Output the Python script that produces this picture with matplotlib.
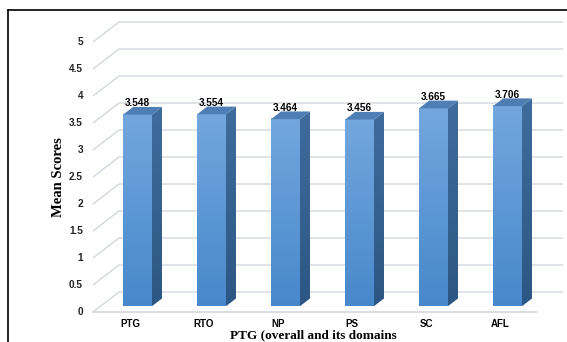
import numpy as np
import matplotlib
matplotlib.use("Agg")
import matplotlib.pyplot as plt
from matplotlib.patches import Polygon
from matplotlib.lines import Line2D
from matplotlib.colors import LinearSegmentedColormap

categories = ["PTG", "RTO", "NP", "PS", "SC", "AFL"]
means = [3.548, 3.554, 3.464, 3.456, 3.665, 3.706]
yticks = [0, 0.5, 1, 1.5, 2, 2.5, 3, 3.5, 4, 4.5, 5]
ytick_labels = ["0", "0.5", "1", "1.5", "2", "2.5", "3", "3.5", "4", "4.5", "5"]

# pseudo 3d: how far the floor recedes (data units), bar width and bar depth range
depth_x, depth_y = 0.351, 0.370
bar_w = 0.39
f0, f1 = 0.29, 0.675

fig = plt.figure(figsize=(5.67, 3.42), dpi=100)
ax = fig.add_axes([0, 0, 1, 1])
ax.set_xlim(-1.757, 5.905)
ax.set_ylim(-0.556, 5.778)
ax.axis("off")

# gridlines: slanted side wall + back wall
grid_c = "#d3d8de"
x0, x1 = -0.5, len(categories) - 0.5
for v in yticks:
    ax.plot([x0, x0 + depth_x, x1 + depth_x], [v, v + depth_y, v + depth_y],
            color=grid_c, lw=1, zorder=1, solid_capstyle="butt")
ax.plot([x0, x1], [0, 0], color=grid_c, lw=1.2, zorder=1)

sans = ["Liberation Sans", "DejaVu Sans"]
serif = ["Liberation Serif", "DejaVu Serif"]

for v, lab in zip(yticks, ytick_labels):
    ax.text(-0.635, v, lab, ha="right", va="center", fontsize=7.2,
            fontweight="bold", family=sans, color="#222222")

front_cmap = LinearSegmentedColormap.from_list("front", ["#4788cb", "#73a7de"])
side_cmap = LinearSegmentedColormap.from_list("side", ["#2c5784", "#3f6c9d"])
grad = np.linspace(0, 1, 256).reshape(-1, 1)

dx = (f1 - f0) * depth_x
dy = (f1 - f0) * depth_y
fy = f0 * depth_y
for i, v in enumerate(means):
    fx = i + f0 * depth_x - bar_w / 2
    # front face
    ax.imshow(grad, cmap=front_cmap, origin="lower", aspect="auto",
              extent=[fx, fx + bar_w, fy, fy + v], zorder=3, interpolation="bilinear")
    # side face
    side = Polygon([(fx + bar_w, fy), (fx + bar_w + dx, fy + dy),
                    (fx + bar_w + dx, fy + v + dy), (fx + bar_w, fy + v)], closed=True)
    side.set_transform(ax.transData)
    im = ax.imshow(grad, cmap=side_cmap, origin="lower", aspect="auto",
                   extent=[fx + bar_w, fx + bar_w + dx, fy, fy + v + dy], zorder=3,
                   interpolation="bilinear")
    im.set_clip_path(side)
    # top face
    top = Polygon([(fx, fy + v), (fx + dx, fy + v + dy),
                   (fx + bar_w + dx, fy + v + dy), (fx + bar_w, fy + v)],
                  closed=True, facecolor="#4f7eb5", edgecolor="none", zorder=4)
    ax.add_patch(top)
    ax.text(i + f0 * depth_x, v + fy + dy + 0.01, f"{v:.3f}", ha="center", va="baseline",
            fontsize=7.2, fontweight="bold", family=sans, color="black", zorder=5)
    ax.text(i, -0.22, categories[i], ha="center", va="center", fontsize=7,
            fontweight="bold", family=sans, color="black")

ax.set_xlim(-1.757, 5.905)
ax.set_ylim(-0.556, 5.778)

fig.text(58 / 567, 1 - 177 / 342, "Mean Scores", rotation=90, ha="center", va="center",
         fontsize=10.5, fontweight="bold", family=serif)
fig.text(313 / 567, 1 - 335 / 342, "PTG (overall and its domains", ha="center", va="center",
         fontsize=9.5, fontweight="bold", family=serif)

# frame (top and left edges only)
fig.add_artist(Line2D([8 / 567, 1], [1 - 9.5 / 342] * 2, color="black", lw=1.2))
fig.add_artist(Line2D([8 / 567] * 2, [0, 1 - 9.5 / 342], color="black", lw=1.2))

fig.savefig("out.png", dpi=100)
